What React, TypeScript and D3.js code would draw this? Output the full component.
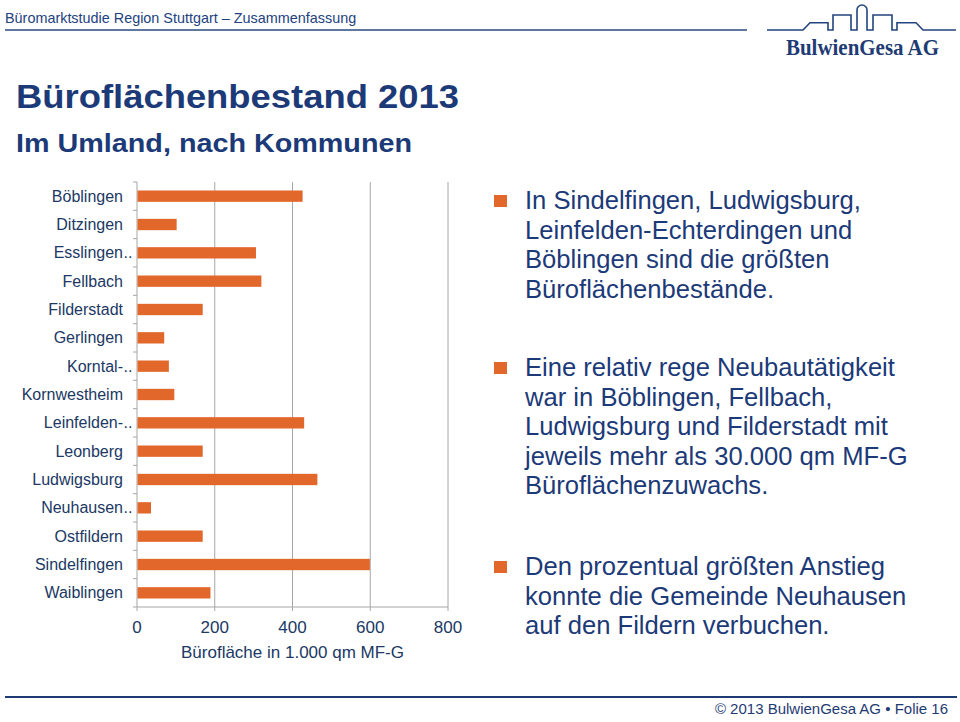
import React from "react";
import * as d3 from "d3";

const categories = [
  "Böblingen", "Ditzingen", "Esslingen", "Fellbach", "Filderstadt", "Gerlingen",
  "Korntal-", "Kornwestheim", "Leinfelden-", "Leonberg", "Ludwigsburg",
  "Neuhausen", "Ostfildern", "Sindelfingen", "Waiblingen",
];
const truncated = [false, false, true, false, false, false, true, false, true, false, false, true, false, false, false];
const values = [426, 102, 306, 320, 169, 70, 82, 96, 430, 169, 464, 36, 169, 599, 189];
const xTicks = [0, 200, 400, 600, 800];
const axisTitle = "Bürofläche in 1.000 qm MF-G";

const bullets = [
  ["In Sindelfingen, Ludwigsburg,", "Leinfelden-Echterdingen und", "Böblingen sind die größten", "Büroflächenbestände."],
  ["Eine relativ rege Neubautätigkeit", "war in Böblingen, Fellbach,", "Ludwigsburg und Filderstadt mit", "jeweils mehr als 30.000 qm MF-G", "Büroflächenzuwachs."],
  ["Den prozentual größten Anstieg", "konnte die Gemeinde Neuhausen", "auf den Fildern verbuchen."],
];
const bulletTops = [209, 376, 575];

const NAVY = "#1c3a78";
const ORANGE = "#E2672A";
const GRID = "#a6a6a6";
const FONT = "Liberation Sans, Arial, Helvetica, sans-serif";

export default function App() {
  const x = d3.scaleLinear().domain([0, 800]).range([137, 448]);
  const y = d3.scaleBand<string>().domain(categories).range([182, 607]).paddingInner(0.6).paddingOuter(0.3);
  const step = y.step();
  const top = 182, bottom = 607;
  const boundaries = d3.range(categories.length + 1).map((i) => top + i * step);

  return (
    <svg width={960} height={722} style={{ position: "absolute", left: 0, top: 0, background: "#fff" }} fontFamily={FONT}>
      <rect x={0} y={0} width={960} height={722} fill="#fff" />
      {/* header */}
      <text x={5} y={23} fontSize={14.4} fill="#22427e">Büromarktstudie Region Stuttgart – Zusammenfassung</text>
      <line x1={5} x2={747} y1={30} y2={30} stroke="#2b4a80" strokeWidth={1.6} />
      {/* logo */}
      <path
        d="M767,30 L803,30 L810,22.7 L828,22.7 L828,30 L833,30 L833,15 L851,15 L851,30 L857,30 L857,10 A5,5 0 0 1 867,10 L867,30 L873,30 L873,15 L892,15 L892,30 L897,30 L897,22.7 L916,22.7 L923,30 L956,30"
        fill="none" stroke="#23447e" strokeWidth={1.6} />
      <text x={786} y={55} fontFamily="Liberation Serif, Times New Roman, serif" fontWeight="bold" fontSize={23}
        fill="#1f3b73" textLength={153} lengthAdjust="spacingAndGlyphs">BulwienGesa AG</text>

      {/* title */}
      <text x={16} y={108} fontSize={34} fontWeight="bold" fill={NAVY} textLength={443} lengthAdjust="spacingAndGlyphs">Büroflächenbestand 2013</text>
      <text x={16} y={152} fontSize={25.5} fontWeight="bold" fill={NAVY} textLength={396} lengthAdjust="spacingAndGlyphs">Im Umland, nach Kommunen</text>

      {/* chart gridlines */}
      {xTicks.filter((t) => t > 0).map((t) => (
        <line key={"g" + t} x1={x(t)} x2={x(t)} y1={top} y2={bottom} stroke={GRID} strokeWidth={1} />
      ))}
      {/* y axis */}
      <line x1={x(0)} x2={x(0)} y1={top} y2={bottom} stroke={GRID} strokeWidth={1} />
      {boundaries.map((b, i) => (
        <line key={"yt" + i} x1={x(0) - 4} x2={x(0)} y1={b} y2={b} stroke={GRID} strokeWidth={1} />
      ))}
      {/* x axis */}
      <line x1={x(0)} x2={x(800)} y1={bottom} y2={bottom} stroke={GRID} strokeWidth={1} />
      {xTicks.map((t) => (
        <line key={"xt" + t} x1={x(t)} x2={x(t)} y1={bottom} y2={bottom + 4} stroke={GRID} strokeWidth={1} />
      ))}
      {/* bars */}
      {categories.map((c, i) => (
        <rect key={c} x={x(0) + 0.5} y={y(c)} width={x(values[i]) - x(0) - 0.5} height={y.bandwidth()} fill={ORANGE} />
      ))}
      {/* category labels */}
      {categories.map((c, i) => {
        const cy = (y(c) as number) + y.bandwidth() / 2 + 5.5;
        return (
          <g key={"l" + c}>
            <text x={123} y={cy} fontSize={16} fill="#203864" textAnchor="end">{c}</text>
            {truncated[i] && <text x={123.5} y={cy} fontSize={16} fill="#203864">..</text>}
          </g>
        );
      })}
      {/* x tick labels */}
      {xTicks.map((t) => (
        <text key={"xl" + t} x={x(t)} y={633} fontSize={17} fill="#203864" textAnchor="middle">{t}</text>
      ))}
      <text x={x(400)} y={658} fontSize={17} fill="#203864" textAnchor="middle">{axisTitle}</text>

      {/* bullets */}
      {bullets.map((lines, bi) => (
        <g key={"b" + bi}>
          <rect x={494} y={bulletTops[bi] - 14} width={13} height={12} fill={ORANGE} />
          {lines.map((ln, li) => (
            <text key={li} x={525} y={bulletTops[bi] + li * 29.6} fontSize={25.6} fill={NAVY}>{ln}</text>
          ))}
        </g>
      ))}

      {/* footer */}
      <line x1={5} x2={957} y1={697} y2={697} stroke="#1f3b73" strokeWidth={1.8} />
      <text x={948} y={714} fontSize={15} fill="#1f3b73" textAnchor="end">© 2013 BulwienGesa AG • Folie 16</text>
    </svg>
  );
}
